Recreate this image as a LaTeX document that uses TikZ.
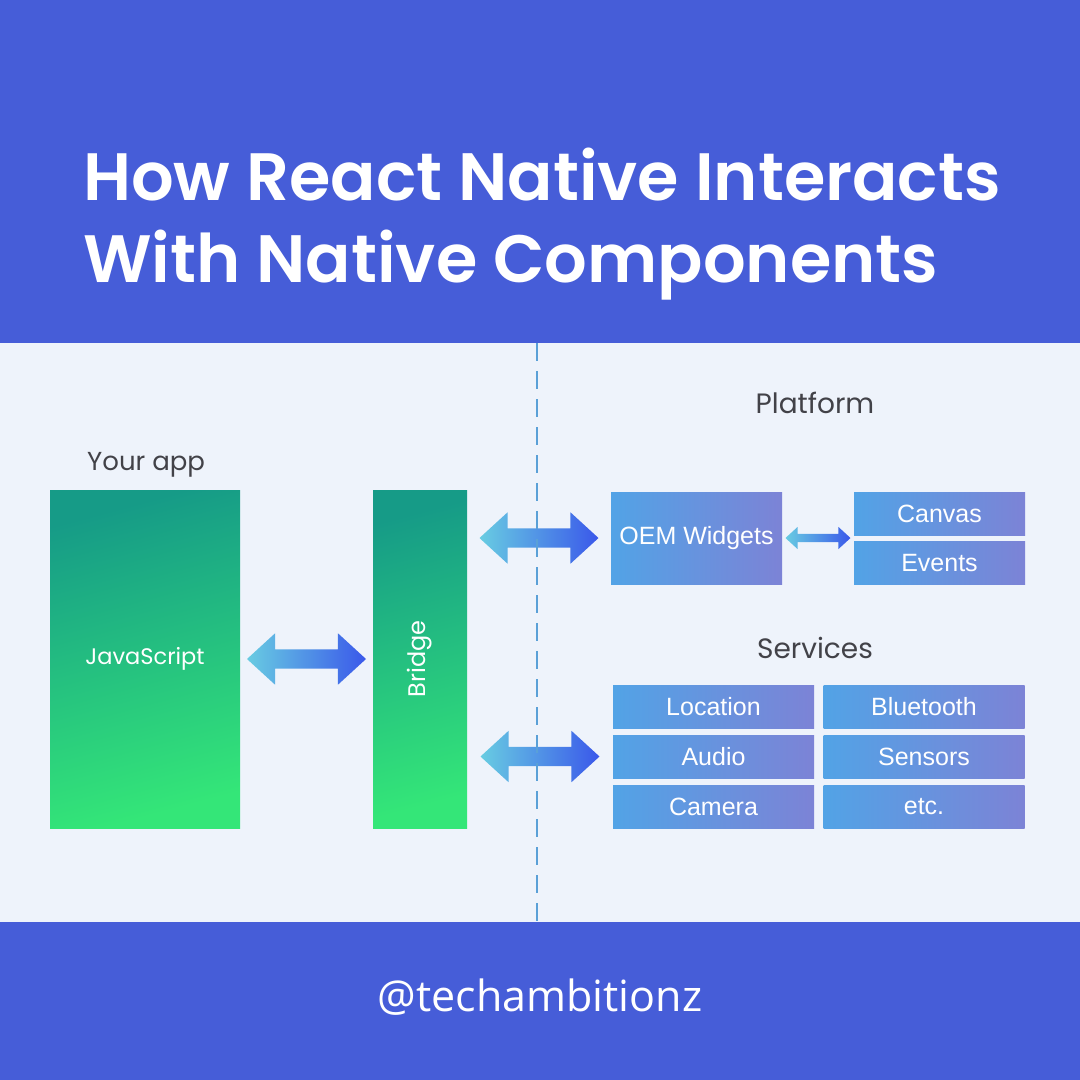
\documentclass[tikz,border=0pt]{standalone}
\usepackage{fontspec}
\setmainfont{Liberation Sans}
\newfontfamily\titlefont{Poppins}[BoldFont={Poppins SemiBold}]
\newfontfamily\geofont{Poppins}
\newfontfamily\tagfont{Open Sans}
\usetikzlibrary{shapes.arrows, calc, positioning}

\definecolor{bandblue}{RGB}{70,93,216}
\definecolor{paper}{RGB}{238,243,251}
\definecolor{greentop}{RGB}{22,155,135}
\definecolor{greenbot}{RGB}{52,230,120}
\definecolor{boxleft}{RGB}{82,163,230}
\definecolor{boxright}{RGB}{124,131,214}
\definecolor{arrowleft}{RGB}{104,204,226}
\definecolor{arrowright}{RGB}{58,88,234}
\definecolor{labelgrey}{RGB}{66,66,72}
\definecolor{dashblue}{RGB}{90,160,215}

\begin{document}
\begin{tikzpicture}[x=1pt, y=-1pt,
    greenbox/.style={top color=greentop, bottom color=greenbot, shading angle=15,
        inner sep=0pt, text=white, font=\geofont\fontsize{22.5}{27}\selectfont},
    bluebox/.style={left color=boxleft, right color=boxright, inner sep=0pt,
        text=white, font=\fontsize{25}{30}\selectfont},
    fatarrow/.style={double arrow, left color=arrowleft, right color=arrowright,
        inner xsep=0pt, inner ysep=9.5pt, double arrow head extend=16pt,
        double arrow tip angle=85},
    smallarrow/.style={fatarrow, inner ysep=4pt, double arrow head extend=7pt},
    heading/.style={text=labelgrey, font=\geofont\fontsize{28}{32}\selectfont, inner sep=0pt}]
    % 1. Khung nền
    \useasboundingbox (0,0) rectangle (1080,1080);
    \fill[bandblue] (0,0) rectangle (1080,343);
    \fill[paper] (0,343) rectangle (1080,922);
    \fill[bandblue] (0,922) rectangle (1080,1080);

    % 2. Tiêu đề
    \node[anchor=base west, inner sep=0pt, text=white,
        font=\titlefont\bfseries\fontsize{67}{75}\selectfont] (title1) at (83,200) {How React Native Interacts};
    \node[anchor=base west, inner sep=0pt, text=white,
        font=\titlefont\bfseries\fontsize{67}{75}\selectfont] (title2) at (83,282) {With Native Components};

    % 3. Phần ứng dụng
    \node[heading, anchor=base west, font=\geofont\fontsize{26}{30}\selectfont] (yourapp) at (87,470) {Your app};
    \node[greenbox, minimum width=190pt, minimum height=338pt] (js) at (145,659) {JavaScript};
    \node[greenbox, minimum width=94pt, minimum height=338pt] (bridge) at (420,659) {};
    \node[rotate=90, text=white, font=\geofont\fontsize{24}{28}\selectfont] (bridgetext) at (bridge) {Bridge};

    % 4. Phần nền tảng
    \node[heading, anchor=base] (platform) at (815,413) {Platform};
    \node[bluebox, minimum width=171pt, minimum height=92pt] (oem) at (696.5,538) {OEM Widgets};
    \node[bluebox, minimum width=171pt, minimum height=43pt] (canvas) at (939.5,513.5) {Canvas};
    \node[bluebox, minimum width=171pt, minimum height=43pt] (events) at (939.5,563) {Events};

    \node[heading, anchor=base] (services) at (815,658) {Services};
    \node[bluebox, minimum width=201pt, minimum height=43pt] (location) at (713.5,706.5) {Location};
    \node[bluebox, minimum width=201pt, minimum height=43pt] (audio) at (713.5,756.5) {Audio};
    \node[bluebox, minimum width=201pt, minimum height=43pt] (camera) at (713.5,806.5) {Camera};
    \node[bluebox, minimum width=201pt, minimum height=43pt] (bluetooth) at (924,706.5) {Bluetooth};
    \node[bluebox, minimum width=201pt, minimum height=43pt] (sensors) at (924,756.5) {Sensors};
    \node[bluebox, minimum width=201pt, minimum height=43pt] (etc) at (924,806.5) {etc.};

    % 5. Mũi tên hai chiều
    \node[fatarrow, minimum height=119pt] (jsbridge) at ($(js.east)!0.5!(bridge.west)$) {};
    \node[fatarrow, minimum height=119pt] (toplatform) at ($(bridge.east |- oem.west)!0.5!(oem.west)$) {};
    \node[fatarrow, minimum height=119pt] (toservices) at ($(bridge.east |- audio.west)!0.5!(audio.west)$) {};
    \node[smallarrow, minimum height=65pt] (oemcanvas) at ($(oem.east)!0.5!(oem.east -| canvas.west)$) {};

    % 6. Đường phân cách
    \coordinate (septop) at (537,343);
    \coordinate (sepbot) at (537,922);
    \draw[dashblue, line width=2pt, dash pattern=on 18pt off 10pt] (septop) -- (sepbot);

    % 7. Chữ ký
    \node[text=white, font=\tagfont\fontsize{43}{50}\selectfont] (tag) at (540,997) {@techambitionz};
\end{tikzpicture}
\end{document}
